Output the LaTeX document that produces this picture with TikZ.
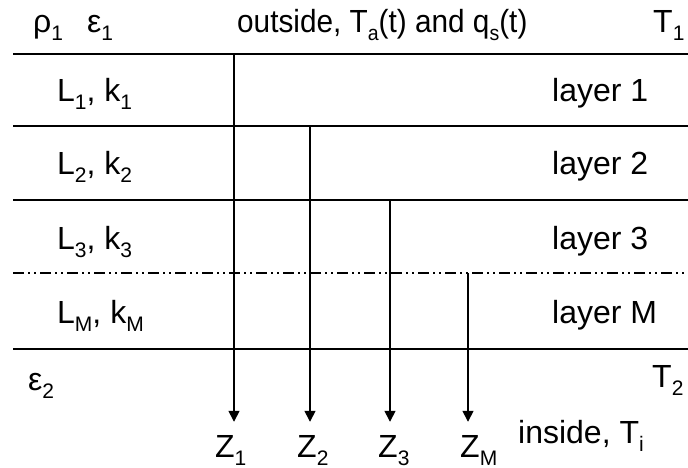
\documentclass[tikz,border=0pt]{standalone}
\usepackage{fontspec}
\setmainfont{Liberation Sans}
\usepackage{tikz}
\usetikzlibrary{arrows.meta}
\newcommand{\sbs}[1]{\raisebox{-0.25em}{\fontsize{21}{21}\selectfont #1}}

\begin{document}
\begin{tikzpicture}[x=1pt, y=-1pt,
  lbl/.style={inner sep=0pt, anchor=base west, font=\fontsize{32}{36}\selectfont},
  layerline/.style={line width=2pt},
  splitline/.style={line width=1.5pt, dash pattern=on 11pt off 4pt on 2pt off 4pt on 2pt off 4pt},
  arr/.style={line width=1.5pt, -{Triangle[width=11pt, length=11pt]}, shorten >=13pt}]
\useasboundingbox (0,0) rectangle (688,468);
% layer boundaries
\foreach \y in {54, 126, 200, 349} {
\draw[layerline] (13,\y) -- (688,\y);
}
\draw[splitline] (13,273) -- (688,273);
% texts above and below the wall
\node[lbl] (rho) at (33,33) {ρ\sbs{1}};
\node[lbl] (eps1) at (87,33) {ε\sbs{1}};
\node[lbl] (outside) at (237,33) {\scalebox{0.93}[1]{outside, T\sbs{a}(t) and q\sbs{s}(t)}};
\node[lbl] (t1) at (653,33) {T\sbs{1}};
\node[lbl] (eps2) at (28,390) {ε\sbs{2}};
\node[lbl] (t2) at (652,387) {T\sbs{2}};
\node[lbl] (inside) at (518,443) {inside, T\sbs{i}};
% layers
\foreach \i/\y/\lab in {1/102/1, 2/175/2, 3/249/3, M/323/M} {
\node[lbl] (lk\i) at (57,\y) {L\sbs{\lab}, k\sbs{\lab}};
\node[lbl] (layer\i) at (552,\y) {layer \lab};
}
% depths
\foreach \i/\x/\y/\zx in {1/234/54/215, 2/310/126/297, 3/390/200/378, M/468/273/460} {
\coordinate (s\i) at (\x,\y);
\node[lbl] (z\i) at (\zx,457) {Z\sbs{\i}};
\draw[arr] (s\i) -- (s\i |- z\i.north);
}
\end{tikzpicture}
\end{document}
